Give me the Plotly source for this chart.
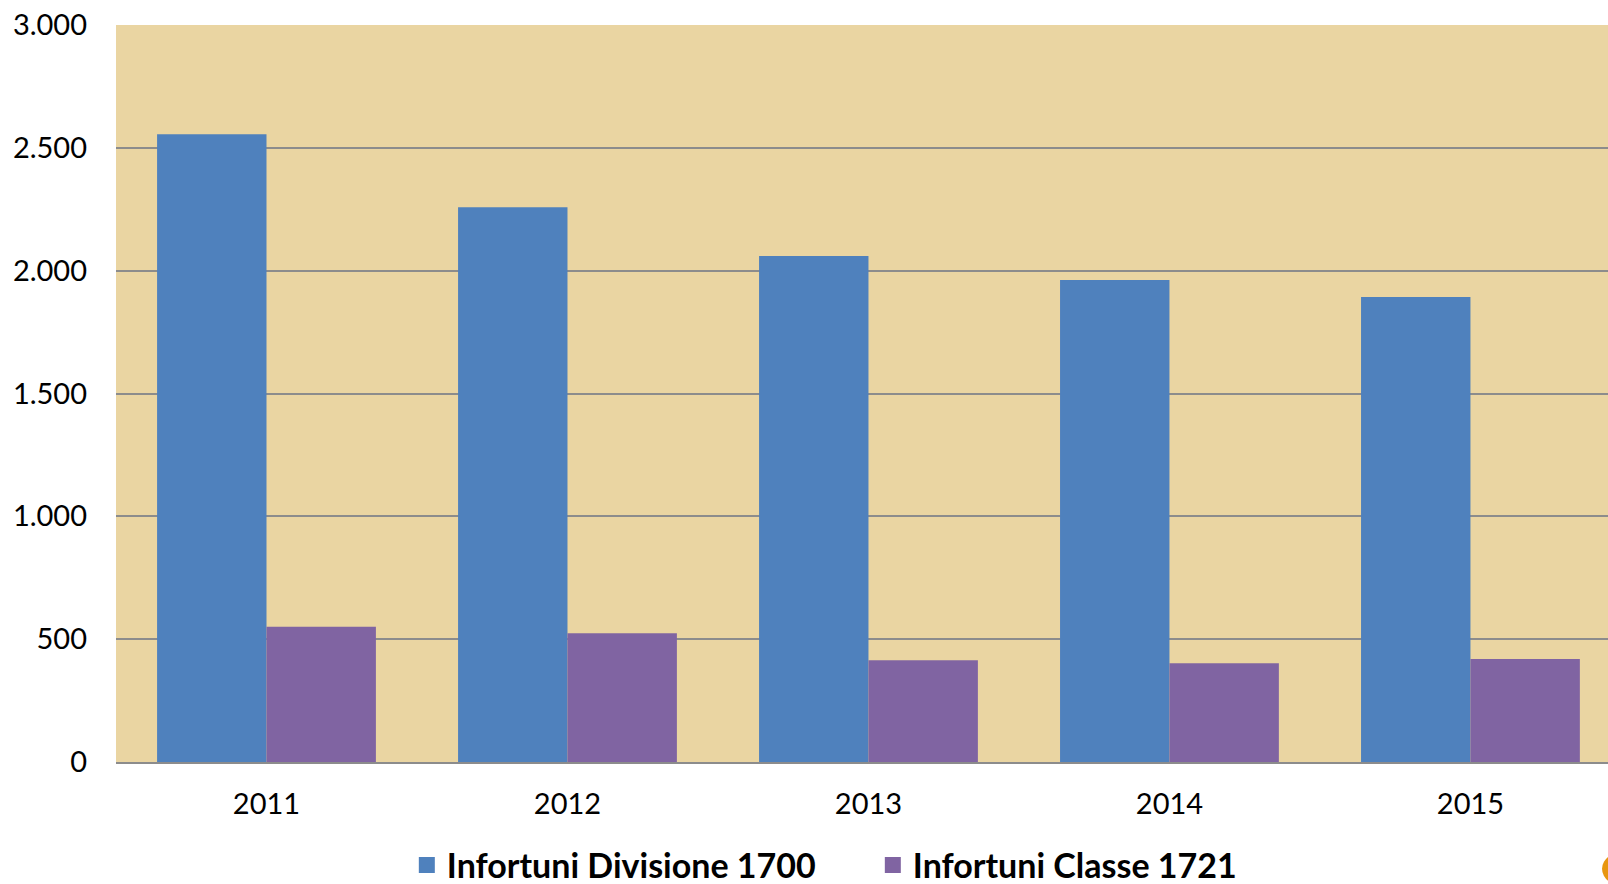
import plotly.graph_objects as go

anni = ["2011", "2012", "2013", "2014", "2015"]
divisione_1700 = [2555, 2258, 2060, 1962, 1893]
classe_1721 = [551, 524, 414, 402, 419]
y_ticks = [0, 500, 1000, 1500, 2000, 2500, 3000]

blu = "#4F81BD"
viola = "#8064A2"

fig = go.Figure()
fig.add_trace(go.Bar(x=anni, y=divisione_1700, name="Infortuni Divisione 1700",
                     marker=dict(color=blu, line=dict(width=0)), showlegend=False))
fig.add_trace(go.Bar(x=anni, y=classe_1721, name="Infortuni Classe 1721",
                     marker=dict(color=viola, line=dict(width=0)), showlegend=False))

# voci di legenda con quadratini piu' grandi
for nome, col in [("Infortuni Divisione 1700", blu), ("Infortuni Classe 1721", viola)]:
    fig.add_trace(go.Scatter(x=[None], y=[None], mode="markers", name=nome,
                             marker=dict(symbol="square", size=21, color=col)))

fig.update_layout(
    width=1608, height=884,
    margin=dict(l=116, r=0, t=25, b=122),
    barmode="group", bargap=0.273, bargroupgap=0,
    separators=",.",
    paper_bgcolor="white",
    plot_bgcolor="#EAD5A2",
    font=dict(family="Lato", size=29, color="black"),
    showlegend=True,
    legend=dict(orientation="h", xref="container", yref="container",
                x=0.253, xanchor="left", y=0.021, yanchor="middle",
                font=dict(family="Lato", size=34, color="black", weight="bold"),
                bgcolor="rgba(0,0,0,0)", itemsizing="trace", entrywidth=421,
                itemwidth=30),
)
fig.update_xaxes(type="category", range=[-0.5, 4.457], showgrid=False, automargin=False,
                 showline=True, linecolor="#8C8C8C", linewidth=2,
                 ticks="", ticklabelstandoff=15, tickfont=dict(size=29))
fig.update_yaxes(range=[0, 3000], tickvals=y_ticks, tickformat=",d", automargin=False,
                 showgrid=True, gridcolor="#8C8C8C", gridwidth=1.5,
                 zeroline=False, showline=False, ticks="", ticklabelstandoff=28,
                 tickfont=dict(size=29))

# piccolo frammento di logo arancione in basso a destra
fig.add_shape(type="circle", xref="paper", yref="paper",
              x0=0.996, x1=1.03, y0=-0.17, y1=-0.12,
              fillcolor="#E8960F", line=dict(width=0), layer="above")

fig.write_html("out.html", config={"displayModeBar": False},
               post_script="document.body.style.margin='0';")
